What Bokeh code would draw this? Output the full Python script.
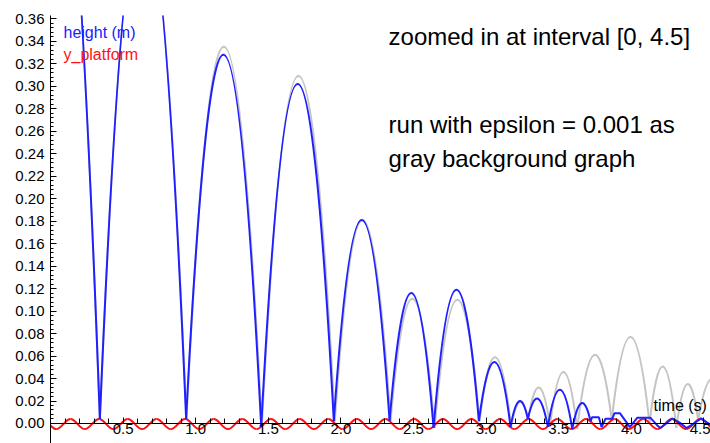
from bokeh.plotting import figure
from bokeh.models import Range1d, FixedTicker, PrintfTickFormatter, Label
from bokeh.embed import file_html
from bokeh.resources import INLINE

# ---------------- data ----------------
# height (m), blue: flights between bounces
h_start = [-0.34, 0.34, 0.934, 1.451, 1.951, 2.335, 2.638, 2.950, 3.168, 3.287, 3.425, 3.593]
h_end   = [0.34, 0.934, 1.451, 1.951, 2.335, 2.638, 2.950, 3.168, 3.287, 3.425, 3.593, 3.719]
h_y0    = [0.004, 0.004, 0.004, -0.003, 0.002, 0.0025, -0.004, 0.002, -0.003, 0.004, -0.003, -0.005]
h_y1    = [0.004, 0.004, -0.003, 0.002, 0.0025, -0.004, 0.002, -0.003, 0.004, -0.003, -0.005, 0.002]
h_apex  = [0.60, 0.46, 0.328, 0.302, 0.181, 0.116, 0.119, 0.0546, 0.0198, 0.022, 0.030, 0.018]
# height (m), blue: the end where the ball rides on the platform
tail_t = [3.719, 3.730, 3.776, 3.795, 3.822, 3.868, 3.884, 3.921, 3.990, 4.040, 4.132, 4.178,
          4.200, 4.240, 4.280, 4.330, 4.380, 4.430, 4.480, 4.520, 4.545]
tail_y = [0.002, 0.0056, 0.0056, -0.0033, 0.0042, 0.0042, 0.0092, 0.0092, -0.0033, 0.005, 0.005, -0.0017,
          -0.004, 0.000, 0.0045, 0.001, -0.004, 0.000, 0.0045, 0.001, -0.001]

# gray background graph (epsilon = 0.001)
g_start = [-0.34, 0.34, 0.936, 1.455, 1.958, 2.342, 2.645, 2.955, 3.172, 3.290, 3.440, 3.627, 3.865, 4.125, 4.310, 4.460]
g_end   = [0.34, 0.936, 1.455, 1.958, 2.342, 2.645, 2.955, 3.172, 3.290, 3.440, 3.627, 3.865, 4.125, 4.310, 4.460, 4.660]
g_y0    = [0.004, 0.004, 0.004, -0.003, 0.002, 0.0025, -0.004, 0.002, -0.003, 0.004, -0.002, -0.005, 0.003, 0.000, -0.004, 0.003]
g_y1    = [0.004, 0.004, -0.003, 0.002, 0.0025, -0.004, 0.002, -0.003, 0.004, -0.002, -0.005, 0.003, 0.000, -0.004, 0.003, 0.000]
g_apex  = [0.60, 0.46, 0.335, 0.309, 0.181, 0.111, 0.110, 0.059, 0.019, 0.032, 0.0457, 0.061, 0.077, 0.0507, 0.035, 0.040]

# y_platform, red: successive extremes of the oscillation
plat_t = [-0.059, 0.039, 0.138, 0.236, 0.335, 0.433, 0.532, 0.631, 0.730, 0.828, 0.927, 1.025, 1.124,
          1.222, 1.321, 1.419, 1.518, 1.617, 1.716, 1.814, 1.913, 2.011, 2.110, 2.208, 2.307, 2.405,
          2.504, 2.603, 2.702, 2.800, 2.899, 2.997, 3.096, 3.194, 3.293, 3.391, 3.490, 3.589, 3.688,
          3.786, 3.885, 3.983, 4.082, 4.180, 4.279, 4.377, 4.476, 4.575]
plat_peak = 0.004
plat_trough = -0.005

y_ticks = [0.00, 0.02, 0.04, 0.06, 0.08, 0.10, 0.12, 0.14, 0.16, 0.18, 0.20, 0.22, 0.24, 0.26,
           0.28, 0.30, 0.32, 0.34, 0.36]
x_ticks = [0.5, 1.0, 1.5, 2.0, 2.5, 3.0, 3.5, 4.0, 4.5]

# ---------------- figure ----------------
FONT = "Liberation Sans"
BLUE = "#2020ff"
RED = "#ff1010"
GRAY = "#c4c4c4"

p = figure(width=710, height=443, output_backend="svg", toolbar_location=None,
           x_range=Range1d(0, 4.545), y_range=Range1d(-0.0178, 0.3629),
           min_border_left=50, min_border_right=0, min_border_top=15, min_border_bottom=0)
p.outline_line_color = None
p.xgrid.visible = False
p.ygrid.visible = False
p.background_fill_color = "white"
p.border_fill_color = "white"


def arcs(t0, t1, y0, y1, apex, color):
    cx = [(a + b) / 2 for a, b in zip(t0, t1)]
    cy = [2 * h - (a + b) / 2 for h, a, b in zip(apex, y0, y1)]
    p.quadratic(x0=t0, y0=y0, x1=t1, y1=y1, cx=cx, cy=cy, line_color=color, line_width=2)


# gray background run
arcs(g_start, g_end, g_y0, g_y1, g_apex, GRAY)

# platform (smooth S-curves between extremes)
plat_y = [plat_peak if i % 2 == 0 else plat_trough for i in range(len(plat_t))]
k = 0.3634
px0, px1 = plat_t[:-1], plat_t[1:]
py0, py1 = plat_y[:-1], plat_y[1:]
p.bezier(x0=px0, y0=py0, x1=px1, y1=py1,
         cx0=[a + k * (b - a) for a, b in zip(px0, px1)], cy0=py0,
         cx1=[b - k * (b - a) for a, b in zip(px0, px1)], cy1=py1,
         line_color=RED, line_width=2)

# height
arcs(h_start, h_end, h_y0, h_y1, h_apex, BLUE)
p.line(tail_t, tail_y, line_color=BLUE, line_width=2)

# axes
ya = p.yaxis[0]
ya.ticker = FixedTicker(ticks=y_ticks, minor_ticks=[i * 0.004 for i in range(91)])
ya.formatter = PrintfTickFormatter(format="%.2f")
ya.major_tick_in = 6
ya.major_tick_out = 0
ya.minor_tick_in = 3
ya.minor_tick_out = 0
ya.major_label_standoff = 6
ya.major_label_text_font = FONT
ya.major_label_text_font_size = "15px"
ya.major_label_text_color = "black"
ya.axis_line_color = "black"

xa = p.xaxis[0]
xa.fixed_location = 0
xa.ticker = FixedTicker(ticks=x_ticks, minor_ticks=[i * 0.1 for i in range(46)])
xa.formatter = PrintfTickFormatter(format="%.1f")
xa.major_tick_in = 6
xa.major_tick_out = 0
xa.minor_tick_in = 5
xa.minor_tick_out = 0
xa.major_label_standoff = 1
xa.major_label_text_font = FONT
xa.major_label_text_font_size = "15px"
xa.major_label_text_color = "black"
xa.axis_line_color = "black"


def label(x, y, text, color="black", size="16px"):
    p.add_layout(Label(x=x, y=y, text=text, text_color=color, text_font=FONT,
                       text_font_size=size, text_align="left", text_baseline="alphabetic"))


label(0.0895, 0.3474, "height (m)", BLUE)
label(0.0895, 0.3283, "y_platform", RED)
label(4.153, 0.016, "time (s)")
label(2.328, 0.3443, "zoomed in at interval [0, 4.5]", size="24px")
label(2.328, 0.2660, "run with epsilon = 0.001 as", size="24px")
label(2.328, 0.2358, "gray background graph", size="24px")

open("out.html", "w").write(file_html(p, INLINE))
